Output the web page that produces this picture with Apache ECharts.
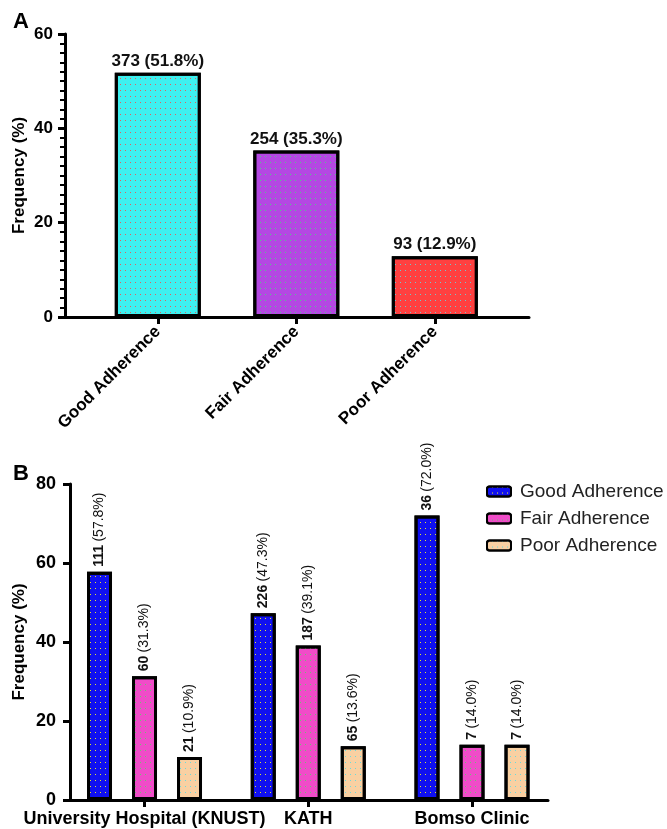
<!DOCTYPE html>
<html>
<head>
<meta charset="utf-8">
<script src="https://cdn.jsdelivr.net/npm/echarts@6/dist/echarts.min.js"></script>
<style>
html,body{margin:0;padding:0;background:#fff;}
#c{width:667px;height:829px;}
</style>
</head>
<body>
<div id="c"></div>
<script>
// ---- Data ----
const catsA = ['Good Adherence', 'Fair Adherence', 'Poor Adherence'];
const pctA = [51.8, 35.3, 12.9];
const countsA = [373, 254, 93];

const sitesB = ['University Hospital (KNUST)', 'KATH', 'Bomso Clinic'];
const seriesNamesB = ['Good Adherence', 'Fair Adherence', 'Poor Adherence'];
const goodPctB = [57.8, 47.3, 72.0];
const fairPctB = [31.3, 39.1, 14.0];
const poorPctB = [10.9, 13.6, 14.0];
const goodCntB = [111, 226, 36];
const fairCntB = [60, 187, 7];
const poorCntB = [21, 65, 7];

const ticksA = [0, 20, 40, 60];
const ticksB = [0, 20, 40, 60, 80];

// ---- Styles ----
const FONT = '"Liberation Sans", Arial, sans-serif';
const colorsA = ['#3ef0f0', '#b448e2', '#ff4040'];
const dotsA = ['rgba(255,70,70,0.85)', 'rgba(60,230,120,0.85)', 'rgba(90,220,230,0.85)'];
const colorsB = ['#1010f0', '#f04cc8', '#f9d0a2'];
const dotsB = ['rgba(240,240,40,0.95)', 'rgba(80,220,100,0.85)', 'rgba(80,220,230,0.85)'];

function decal(c) {
  return { symbol: 'rect', symbolSize: 1, color: c, dashArrayX: [1, 4], dashArrayY: [1, 5], rotation: 0 };
}

const chart = echarts.init(document.getElementById('c'), null, { renderer: 'canvas' });

const idx = [0, 1, 2];

const seriesB = [goodPctB, fairPctB, poorPctB].map((arr, s) => {
  const cnts = [goodCntB, fairCntB, poorCntB][s];
  return {
    name: seriesNamesB[s],
    type: 'bar',
    xAxisIndex: 1, yAxisIndex: 1,
    barWidth: 25,
    barGap: '80%',
    data: arr.map((v, i) => [i, v]),
    itemStyle: { color: colorsB[s], borderColor: '#000', borderWidth: 3, decal: decal(dotsB[s]) },
    label: {
      show: true, position: 'top', rotate: 90, align: 'left', verticalAlign: 'middle', distance: 5,
      formatter: p => '{b|' + cnts[p.dataIndex] + '} {n|(' + p.value[1].toFixed(1) + '%)}',
      rich: {
        b: { fontFamily: FONT, fontSize: 14, fontWeight: 'bold', color: '#111' },
        n: { fontFamily: FONT, fontSize: 14, color: '#111' }
      }
    }
  };
});

const option = {
  animation: false,
  title: [
    { text: 'A', left: 8, top: 6, textStyle: { fontFamily: FONT, fontSize: 22, fontWeight: 'bold', color: '#000' } },
    { text: 'B', left: 8, top: 458, textStyle: { fontFamily: FONT, fontSize: 22, fontWeight: 'bold', color: '#000' } }
  ],
  legend: {
    data: seriesNamesB,
    orient: 'vertical',
    left: 481, top: 477,
    itemWidth: 24, itemHeight: 10, itemGap: 8,
    textStyle: { fontFamily: FONT, fontSize: 19, color: '#222', padding: [0, 0, 0, 4] }
  },
  grid: [
    { left: 65, right: 138, top: 34, bottom: 512 },
    { left: 70, right: 119, top: 484, bottom: 29 }
  ],
  xAxis: [
    {
      type: 'value', gridIndex: 0, min: -0.67, max: 2.68,
      splitLine: { show: false },
      axisLine: { show: true, onZero: false, lineStyle: { color: '#000', width: 3 } },
      axisTick: { show: true, customValues: idx, length: 7, lineStyle: { color: '#000', width: 3 } },
      axisLabel: {
        customValues: idx, formatter: v => catsA[Math.round(v)] || '',
        rotate: 45, margin: 12,
        fontFamily: FONT, fontSize: 17, fontWeight: 'bold', color: '#000'
      }
    },
    {
      type: 'value', gridIndex: 1, min: -0.455, max: 2.464,
      splitLine: { show: false },
      axisLine: { show: true, onZero: false, lineStyle: { color: '#000', width: 3 } },
      axisTick: { show: true, customValues: idx, length: 7, lineStyle: { color: '#000', width: 3 } },
      axisLabel: {
        customValues: idx, formatter: v => sitesB[Math.round(v)] || '',
        margin: 10,
        fontFamily: FONT, fontSize: 18, fontWeight: 'bold', color: '#000'
      }
    }
  ],
  yAxis: [
    {
      type: 'value', gridIndex: 0, min: ticksA[0], max: ticksA[ticksA.length - 1], interval: 20,
      name: 'Frequency (%)', nameLocation: 'middle', nameGap: 37, nameMoveOverlap: false,
      nameTextStyle: { fontFamily: FONT, fontSize: 17, fontWeight: 'bold', color: '#000' },
      splitLine: { show: false },
      axisLine: { show: true, onZero: false, lineStyle: { color: '#000', width: 3 } },
      axisTick: { show: true, length: 7, lineStyle: { color: '#000', width: 3 } },
      minorTick: { show: true, splitNumber: 10, length: 5, lineStyle: { color: '#000', width: 2 } },
      axisLabel: { fontFamily: FONT, fontSize: 17, fontWeight: 'bold', color: '#000', margin: 12 }
    },
    {
      type: 'value', gridIndex: 1, min: ticksB[0], max: ticksB[ticksB.length - 1], interval: 20,
      name: 'Frequency (%)', nameLocation: 'middle', nameGap: 42, nameMoveOverlap: false,
      nameTextStyle: { fontFamily: FONT, fontSize: 17, fontWeight: 'bold', color: '#000' },
      splitLine: { show: false },
      axisLine: { show: true, onZero: false, lineStyle: { color: '#000', width: 3 } },
      axisTick: { show: true, length: 7, lineStyle: { color: '#000', width: 3 } },
      axisLabel: { fontFamily: FONT, fontSize: 18, fontWeight: 'bold', color: '#000', margin: 14 }
    }
  ],
  series: [
    {
      type: 'bar', xAxisIndex: 0, yAxisIndex: 0,
      barWidth: 86,
      data: pctA.map((v, i) => ({
        value: [i, v],
        itemStyle: { color: colorsA[i], borderColor: '#000', borderWidth: 3, decal: decal(dotsA[i]) }
      })),
      label: {
        show: true, position: 'top', distance: 3,
        formatter: p => countsA[p.dataIndex] + ' (' + p.value[1].toFixed(1) + '%)',
        fontFamily: FONT, fontSize: 17, fontWeight: 'bold', color: '#111'
      }
    }
  ].concat(seriesB)
};

chart.setOption(option);
</script>
</body>
</html>
